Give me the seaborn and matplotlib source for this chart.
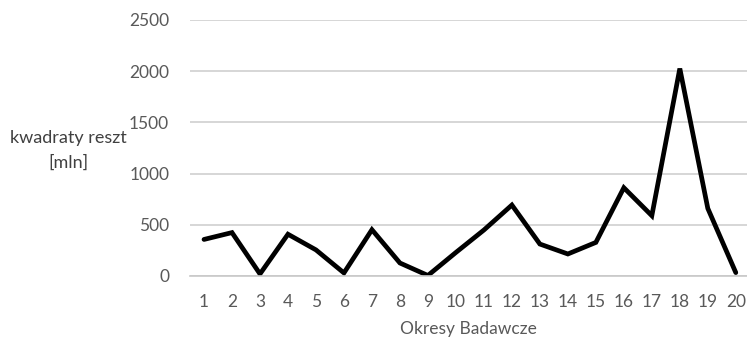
import numpy as np
import pandas as pd
import matplotlib
matplotlib.use("Agg")
import matplotlib.pyplot as plt
import seaborn as sns

okresy = list(range(1, 21))
kwadraty_reszt = [357, 424, 20, 408, 255, 30, 452, 127, 5, 230,
                  449, 693, 312, 215, 328, 862, 589, 2026, 660, 33]
y_ticks = [0, 500, 1000, 1500, 2000, 2500]

df = pd.DataFrame({"okres": okresy, "reszty": kwadraty_reszt})

sns.set_style("white")
plt.rcParams["font.family"] = ["Lato", "DejaVu Sans"]

fig = plt.figure(figsize=(7.47, 3.38), dpi=100)
ax = fig.add_axes([190 / 747, 62 / 338, 557 / 747, 256 / 338])

sns.lineplot(data=df, x="okres", y="reszty", color="black", linewidth=3.4,
             ax=ax, solid_joinstyle="miter")

ax.set_xlim(0.5, 20.4)
ax.set_ylim(0, 2500)
ax.set_xticks(okresy)
ax.set_yticks(y_ticks)
ax.yaxis.grid(True, color="#d0d0d0", linewidth=1.2)
ax.set_axisbelow(True)
for s in ["top", "right", "left"]:
    ax.spines[s].set_visible(False)
ax.spines["bottom"].set_color("#c8c8c8")
ax.spines["bottom"].set_linewidth(1.2)
ax.tick_params(axis="both", length=0, labelsize=12.5, colors="#595959")
ax.tick_params(axis="x", pad=13)
ax.tick_params(axis="y", pad=15)

ax.set_xlabel("Okresy Badawcze", fontsize=12.5, color="#595959", labelpad=8)
ax.set_ylabel("")
fig.text(68 / 747, 1 - 150 / 338, "kwadraty reszt\n[mln]", ha="center", va="center",
         fontsize=13, color="#404040", linespacing=1.65)

fig.savefig("out.png", dpi=100)
